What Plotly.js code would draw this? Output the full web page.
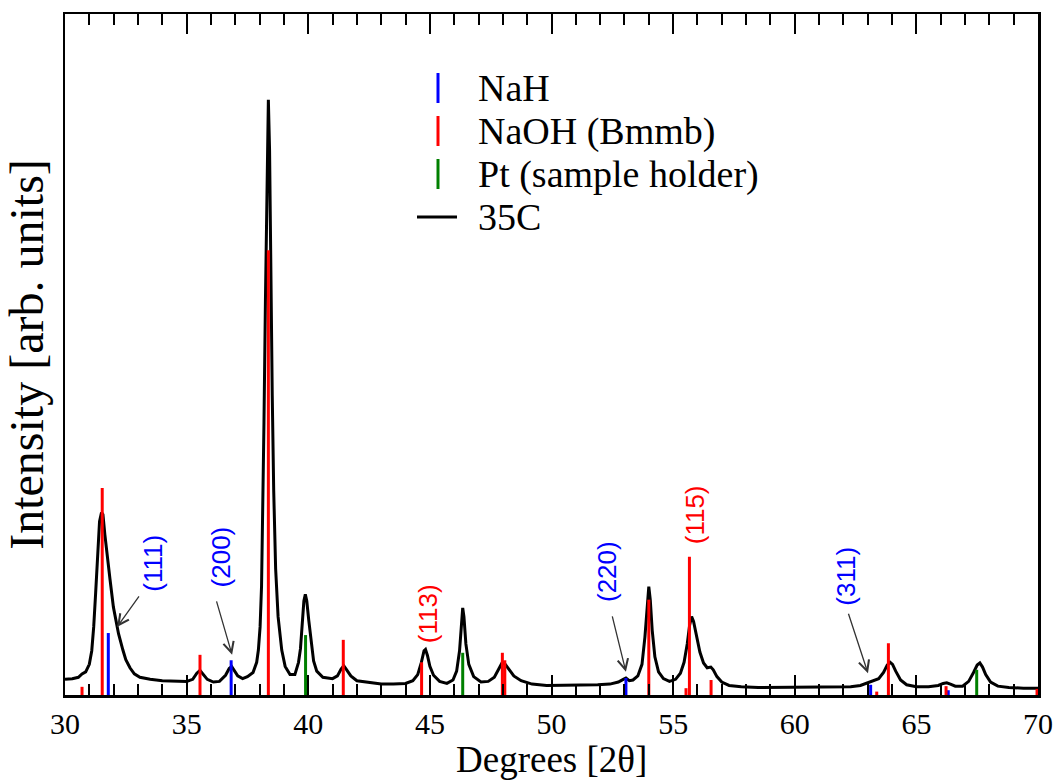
<!DOCTYPE html>
<html>
<head>
<meta charset="utf-8">
<script src="https://cdn.plot.ly/plotly-3.0.1.min.js"></script>
<style>html,body{margin:0;padding:0;background:#fff;}#chart{width:1061px;height:782px;}</style>
</head>
<body>
<div id="chart"></div>
<script>
// Measured XRD pattern (35C): 2theta [deg] and intensity [arb. units]
var scanAngle = [30.0,30.3,30.55,30.7,30.85,31.0,31.1,31.18,31.26,31.34,31.42,31.5,31.56,31.64,31.72,31.85,31.99,32.1,32.2,32.38,32.5,32.67,32.85,33.08,33.5,34.0,34.5,35.0,35.25,35.42,35.55,35.68,35.85,36.1,36.35,36.6,36.75,36.85,36.95,37.1,37.3,37.5,37.73,37.88,37.95,38.02,38.08,38.13,38.18,38.24,38.3,38.36,38.41,38.46,38.52,38.58,38.66,38.76,38.91,39.05,39.25,39.45,39.6,39.68,39.75,39.82,39.88,39.94,40.02,40.12,40.22,40.35,40.6,41.0,41.2,41.35,41.46,41.58,41.75,42.0,42.5,43.0,43.5,44.0,44.3,44.5,44.65,44.76,44.82,44.9,45.0,45.15,45.4,45.7,45.95,46.1,46.22,46.3,46.35,46.4,46.48,46.6,46.8,47.1,47.4,47.65,47.85,47.98,48.1,48.25,48.45,48.75,49.2,49.8,50.5,51.2,51.9,52.4,52.75,52.95,53.06,53.2,53.35,53.55,53.72,53.84,53.93,54.0,54.06,54.14,54.25,54.4,54.6,54.85,55.1,55.3,55.45,55.58,55.68,55.76,55.84,55.95,56.1,56.25,56.4,56.55,56.65,56.8,57.0,57.3,57.8,58.5,59.5,60.5,61.5,62.3,62.7,63.0,63.2,63.45,63.65,63.8,63.92,64.02,64.15,64.35,64.6,65.0,65.5,65.9,66.1,66.25,66.4,66.6,66.9,67.15,67.35,67.5,67.61,67.72,67.85,68.05,68.35,68.8,69.4,70.0];
var scanIntensity = [2.3,2.4,2.6,3.1,3.4,4.5,6.5,10.0,15.0,21.0,25.5,26.8,26.5,23.5,20.8,17.0,12.9,10.6,9.0,6.6,5.2,4.0,3.1,2.6,2.3,2.1,2.0,2.0,2.3,3.2,3.6,3.1,2.3,1.9,2.0,2.9,3.9,4.2,3.7,2.8,2.4,2.7,3.3,4.8,6.6,10.0,16.0,26.0,40.0,58.0,77.0,87.4,80.0,62.0,44.0,30.0,18.5,11.5,6.6,4.2,3.0,3.0,4.8,6.8,10.5,13.8,14.8,13.8,11.0,7.5,5.0,3.5,2.6,2.4,2.8,3.8,4.3,3.7,2.8,2.1,1.8,1.6,1.6,1.7,2.1,3.0,4.8,6.5,6.7,5.8,4.2,2.9,2.0,1.7,2.2,3.5,6.5,11.0,12.8,11.5,7.5,4.5,2.7,1.9,2.0,2.6,3.9,4.8,4.5,3.7,2.8,2.1,1.6,1.4,1.4,1.4,1.5,1.6,1.9,2.3,2.5,2.1,2.2,2.8,4.5,8.5,13.5,15.9,14.0,9.5,5.6,3.4,2.4,2.0,2.3,3.2,4.8,7.5,10.3,11.5,10.8,8.7,6.3,4.7,4.0,4.1,3.7,2.7,1.9,1.4,1.2,1.1,1.1,1.1,1.1,1.2,1.4,1.8,2.0,2.4,3.3,4.4,4.8,4.5,3.5,2.2,1.5,1.2,1.2,1.4,1.7,1.8,1.6,1.3,1.3,2.0,3.3,4.4,4.7,4.1,3.0,1.9,1.3,1.1,1.0,1.0];

// Reference reflections (stick patterns)
var nahAngle = [31.78, 36.83, 53.06, 63.12, 66.31];
var nahHeight = [9.1, 5.1, 2.5, 1.5, 0.7];
var naohAngle = [30.70, 31.53, 35.55, 38.36, 41.44, 44.66, 47.98, 48.08, 54.0, 55.53, 55.67, 56.56, 63.37, 63.85, 66.22, 69.96];
var naohHeight = [1.2, 30.4, 5.9, 65.3, 8.1, 4.8, 6.2, 5.1, 14.0, 1.0, 20.3, 2.2, 0.5, 7.6, 1.3, 0.9];
var ptAngle = [39.89, 46.35, 67.48];
var ptHeight = [8.8, 6.2, 3.7];

// Legend entries
var legendNames = ['NaH', 'NaOH (Bmmb)', 'Pt (sample holder)', '35C'];
var legendKinds = ['stick', 'stick', 'stick', 'line'];

// Axis titles
var xTitle = 'Degrees [2θ]';
var yTitle = 'Intensity [arb. units]';

// Peak labels (Miller indices)
var peakLabels = ['(111)', '(200)', '(113)', '(220)', '(115)', '(311)'];
var labelAngle = [33.62, 36.40, 44.92, 52.28, 55.90, 62.10];
var labelIntensity = [19.3, 20.3, 12.0, 18.2, 26.4, 17.5];
var labelPhase = ['NaH', 'NaH', 'NaOH', 'NaH', 'NaOH', 'NaH'];
// Arrow tips (points on the pattern) for the NaH labels
var arrowAngle = [32.14, 36.87, 53.06, 63.01];
var arrowIntensity = [10.0, 5.9, 3.4, 3.2];

var phaseColor = {NaH: '#0000ff', NaOH: '#ff0000', Pt: '#008000'};
var legendColors = [phaseColor.NaH, phaseColor.NaOH, phaseColor.Pt, '#000000'];

function sticks(xs, hs) {
  var x = [], y = [];
  for (var i = 0; i < xs.length; i++) {
    x.push(xs[i], xs[i], null);
    y.push(0, hs[i], null);
  }
  return {x: x, y: y};
}

var serif = 'Liberation Serif';
var sans = 'Liberation Sans';

var sNaH = sticks(nahAngle, nahHeight);
var sNaOH = sticks(naohAngle, naohHeight);
var sPt = sticks(ptAngle, ptHeight);

var traces = [
  {x: scanAngle, y: scanIntensity, mode: 'lines', name: '35C', line: {color: '#000', width: 3}},
  {x: sNaH.x, y: sNaH.y, mode: 'lines', name: 'NaH', line: {color: phaseColor.NaH, width: 3}},
  {x: sNaOH.x, y: sNaOH.y, mode: 'lines', name: 'NaOH (Bmmb)', line: {color: phaseColor.NaOH, width: 3}},
  {x: sPt.x, y: sPt.y, mode: 'lines', name: 'Pt (sample holder)', line: {color: phaseColor.Pt, width: 3}}
];

// plot-area geometry (px) used to place the hand-made legend in paper coords
var W = 1061, H = 782, mL = 65, mR = 23, mT = 14, mB = 87;
var pw = W - mL - mR, ph = H - mT - mB;
function px(x) { return (x - mL) / pw; }
function py(y) { return (H - mB - y) / ph; }

var annotations = [];
var shapes = [];
var rowY = [88, 131, 174, 217];
for (var k = 0; k < legendNames.length; k++) {
  annotations.push({
    xref: 'paper', yref: 'paper', x: px(476), y: py(rowY[k]),
    xanchor: 'left', yanchor: 'middle', showarrow: false,
    text: legendNames[k], font: {family: serif, size: 38, color: '#000'}
  });
  if (legendKinds[k] === 'stick') {
    shapes.push({type: 'line', xref: 'paper', yref: 'paper',
      x0: px(438), x1: px(438), y0: py(rowY[k] - 15), y1: py(rowY[k] + 15),
      line: {color: legendColors[k], width: 3}});
  } else {
    shapes.push({type: 'line', xref: 'paper', yref: 'paper',
      x0: px(417), x1: px(457), y0: py(rowY[k]), y1: py(rowY[k]),
      line: {color: legendColors[k], width: 3}});
  }
}

// x-axis title placed as a paper annotation so it sits right below the tick labels
annotations.push({
  xref: 'paper', yref: 'paper', x: 0.5, y: py(738), xanchor: 'center', yanchor: 'top',
  showarrow: false, text: xTitle, font: {family: serif, size: 37, color: '#000'}, borderpad: 0
});

for (var i = 0; i < peakLabels.length; i++) {
  annotations.push({
    x: labelAngle[i], y: labelIntensity[i], xref: 'x', yref: 'y',
    text: peakLabels[i], showarrow: false, textangle: -90,
    font: {family: sans, size: 26, color: phaseColor[labelPhase[i]]},
    xanchor: 'center', yanchor: 'middle'
  });
}
var arrowTail = [[23, -32], [-16, -55], [-14, -57], [-20, -61]];
for (var j = 0; j < arrowAngle.length; j++) {
  annotations.push({
    x: arrowAngle[j], y: arrowIntensity[j], xref: 'x', yref: 'y',
    text: '', showarrow: true, arrowhead: 5, arrowsize: 1.6, arrowwidth: 1.3,
    arrowcolor: '#333', ax: arrowTail[j][0], ay: arrowTail[j][1], standoff: 0
  });
}

var layout = {
  width: W, height: H,
  margin: {l: mL, r: mR, t: mT, b: mB},
  paper_bgcolor: '#fff', plot_bgcolor: '#fff',
  font: {family: serif},
  showlegend: false,
  xaxis: {
    range: [30, 70], dtick: 5, tick0: 30,
    ticks: 'inside', ticklen: 20, tickwidth: 2, tickcolor: '#000',
    minor: {dtick: 1, ticks: 'inside', ticklen: 11, tickwidth: 2, tickcolor: '#000'},
    showline: true, linecolor: '#000', linewidth: 2.5, mirror: 'ticks',
    showgrid: false, zeroline: false,
    tickfont: {family: serif, size: 30, color: '#000'}
  },
  yaxis: {
    range: [0, 100], showticklabels: false, ticks: '',
    showline: true, linecolor: '#000', linewidth: 2.5, mirror: true,
    showgrid: false, zeroline: false,
    title: {text: yTitle, font: {family: serif, size: 48, color: '#000'}, standoff: 4}
  },
  annotations: annotations,
  shapes: shapes
};

Plotly.newPlot('chart', traces, layout, {staticPlot: true, displayModeBar: false});
</script>
</body>
</html>
